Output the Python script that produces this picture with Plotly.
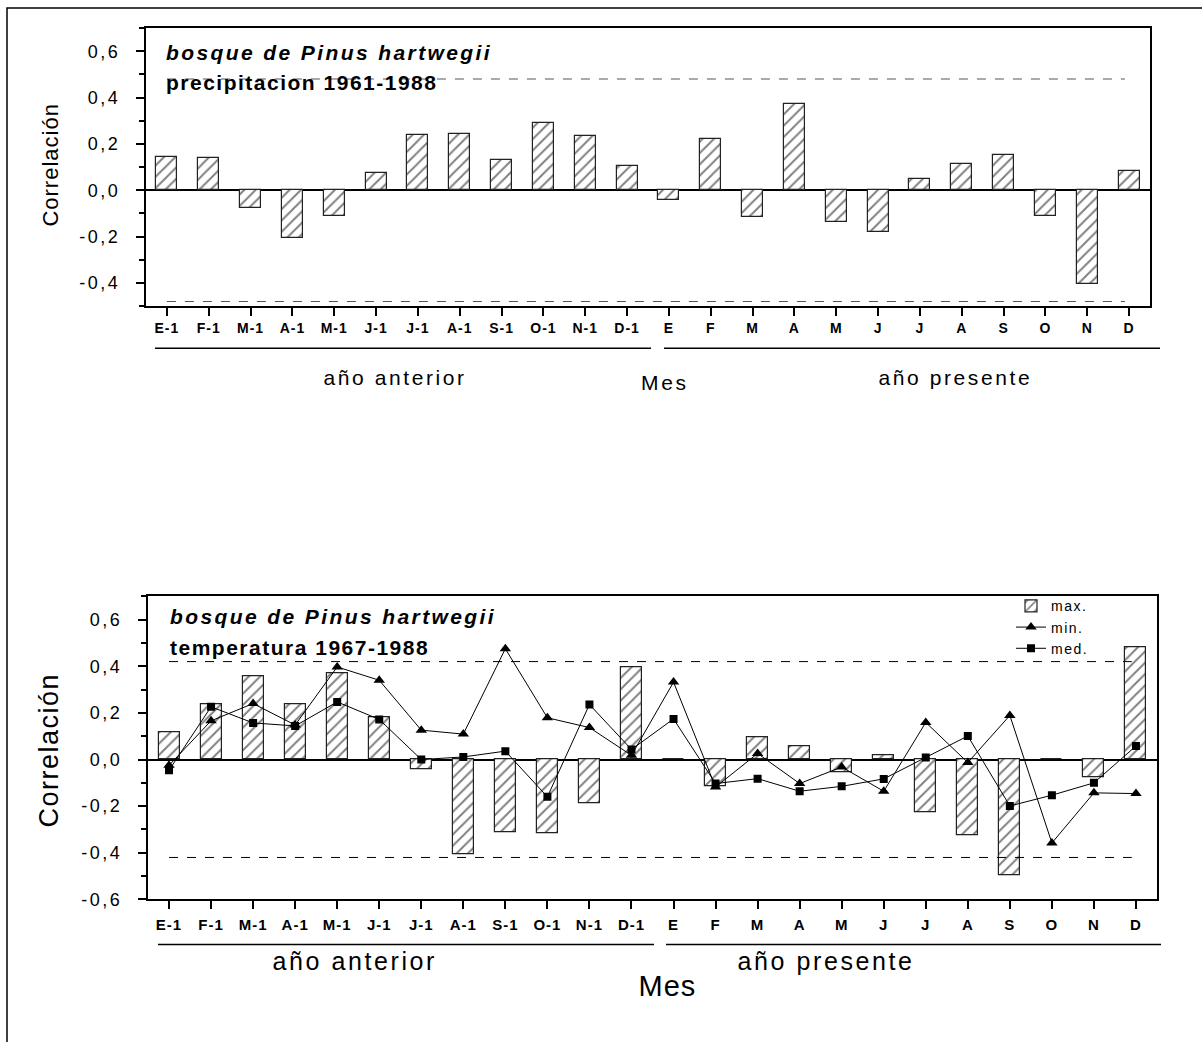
import plotly.graph_objects as go

# ---------------- data ----------------
months = ["E-1", "F-1", "M-1", "A-1", "M-1", "J-1", "J-1", "A-1", "S-1", "O-1", "N-1", "D-1",
          "E", "F", "M", "A", "M", "J", "J", "A", "S", "O", "N", "D"]
xpos = list(range(len(months)))

precip = [0.143, 0.140, -0.075, -0.204, -0.109, 0.076, 0.240, 0.242, 0.132, 0.291, 0.235, 0.106,
          -0.040, 0.222, -0.117, 0.374, -0.135, -0.178, 0.050, 0.113, 0.153, -0.112, -0.404, 0.085]

tmax = [0.118, 0.237, 0.357, 0.237, 0.369, 0.180, -0.043, -0.408, -0.313, -0.318, -0.186, 0.395,
        0.0, -0.115, 0.096, 0.057, -0.053, 0.018, -0.225, -0.326, -0.498, 0.0, -0.075, 0.481]

tmin = [-0.025, 0.166, 0.240, 0.148, 0.397, 0.340, 0.126, 0.109, 0.475, 0.179, 0.137, 0.018,
        0.332, -0.118, 0.026, -0.103, -0.032, -0.136, 0.159, -0.013, 0.189, -0.358, -0.143, -0.146]

tmed = [-0.046, 0.226, 0.157, 0.144, 0.247, 0.172, 0.000, 0.011, 0.036, -0.160, 0.236, 0.043,
        0.174, -0.103, -0.082, -0.136, -0.115, -0.083, 0.009, 0.101, -0.199, -0.153, -0.100, 0.058]

sig_precip = 0.48
sig_temp = 0.42

ytick_top_vals = [-0.4, -0.2, 0.0, 0.2, 0.4, 0.6]
ytick_top_text = ["-0,4", "-0,2", "0,0", "0,2", "0,4", "0,6"]
ytick_bot_vals = [-0.6, -0.4, -0.2, 0.0, 0.2, 0.4, 0.6]
ytick_bot_text = ["-0,6", "-0,4", "-0,2", "0,0", "0,2", "0,4", "0,6"]

# ---------------- helpers ----------------
W, H = 1202, 1042
H_EFF = 1031.5   # observed effective vertical extent of the rendered figure
FONT = "Arial, Liberation Sans, sans-serif"


def px(x):
    return x / W


def py(y):
    return 1 - y / H_EFF


hatch = dict(shape="/", fgcolor="black", bgcolor="white", size=8, solidity=0.24)

fig = go.Figure()

fig.add_trace(go.Bar(
    x=xpos, y=precip, width=0.5, xaxis="x", yaxis="y", showlegend=False,
    marker=dict(color="white", pattern=hatch, line=dict(color="#222", width=1.2)),
))

fig.add_trace(go.Bar(
    x=xpos, y=tmax, width=0.5, xaxis="x2", yaxis="y2", name="max.",
    marker=dict(color="white", pattern=hatch, line=dict(color="#222", width=1.2)),
))
fig.add_trace(go.Scatter(
    x=xpos, y=tmin, xaxis="x2", yaxis="y2", name="min.", mode="lines+markers",
    line=dict(color="black", width=1),
    marker=dict(symbol="triangle-up", size=10, color="black"),
))
fig.add_trace(go.Scatter(
    x=xpos, y=tmed, xaxis="x2", yaxis="y2", name="med.", mode="lines+markers",
    line=dict(color="black", width=1),
    marker=dict(symbol="square", size=8, color="black"),
))

common_x = dict(
    range=[-0.5, 23.5], tickmode="array", tickvals=xpos, ticktext=months,
    ticks="outside", ticklen=8, tickwidth=2, tickcolor="black",
    showline=True, linewidth=2, linecolor="black", mirror=True,
    showgrid=False, zeroline=False,
)
common_y = dict(
    tickmode="array", ticks="outside", ticklen=8, tickwidth=2, tickcolor="black",
    minor=dict(dtick=0.1, tick0=0, ticks="outside", ticklen=5, tickwidth=2, tickcolor="black", showgrid=False),
    showline=True, linewidth=2, linecolor="black", mirror=True,
    showgrid=False, zeroline=True, zerolinecolor="black", zerolinewidth=2,
    ticklabelstandoff=12,
    tickfont=dict(family=FONT, size=18, color="black"),
)

fig.update_layout(
    width=W, height=H, margin=dict(l=0, r=0, t=0, b=0),
    paper_bgcolor="white", plot_bgcolor="white",
    font=dict(family=FONT, color="black"),
    bargap=0,
    xaxis=dict(domain=[px(146), px(1150)], anchor="y",
               tickfont=dict(family=FONT, size=14, color="black", weight="bold"), **common_x),
    yaxis=dict(domain=[py(306), py(28)], anchor="x", range=[-0.5, 0.7],
               tickvals=ytick_top_vals, ticktext=ytick_top_text, **common_y),
    xaxis2=dict(domain=[px(148), px(1157)], anchor="y2", ticklabelstandoff=3,
                tickfont=dict(family=FONT, size=15, color="black", weight="bold"), **common_x),
    yaxis2=dict(domain=[py(899), py(596)], anchor="x2", range=[-0.6, 0.7],
                tickvals=ytick_bot_vals, ticktext=ytick_bot_text, **common_y),
    legend=dict(x=px(1011), y=py(590), xanchor="left", yanchor="top",
                bgcolor="rgba(0,0,0,0)", font=dict(family=FONT, size=14, color="black"),
                traceorder="normal", itemwidth=30, tracegroupgap=0),
)

shapes = []
# significance lines
for v in (sig_precip, -sig_precip):
    shapes.append(dict(type="line", xref="x", yref="y", x0=0, x1=22.9, y0=v, y1=v,
                       line=dict(color="#555", width=1, dash="dash")))
for v in (sig_temp, -sig_temp):
    shapes.append(dict(type="line", xref="x2", yref="y2", x0=0, x1=22.9, y0=v, y1=v,
                       line=dict(color="black", width=1, dash="dash")))
# year grouping lines
for (a, b, y) in [(155, 651, 348), (664, 1160, 348), (158, 654, 944), (666, 1161, 944)]:
    shapes.append(dict(type="line", xref="paper", yref="paper", x0=px(a), x1=px(b), y0=py(y), y1=py(y),
                       line=dict(color="black", width=1.5)))
# outer frame (top and left visible)
shapes.append(dict(type="rect", xref="paper", yref="paper", x0=px(7), x1=px(1215), y0=py(1080), y1=py(8),
                   line=dict(color="black", width=1.5)))
fig.update_layout(shapes=shapes)

annots = []
spacing = []


def add(text, x, y, size, ls, xanchor="center", align="center", angle=0):
    annots.append(dict(text=text, x=px(x), y=py(y), xref="paper", yref="paper",
                       xanchor=xanchor, yanchor="middle", align=align, textangle=angle,
                       showarrow=False, font=dict(family=FONT, size=size, color="black")))
    spacing.append(ls)


add("<b><i>bosque de Pinus hartwegii</i></b>", 164, 52, 21, 2.4, "left", "left")
add("<b>precipitacion 1961-1988</b>", 164, 82, 21, 1.5, "left", "left")
add("Correlación", 50, 165, 22, 1.0, angle=-90)
add("año anterior", 395, 377, 21, 2.6)
add("Mes", 665, 382, 21, 2.6)
add("año presente", 955, 377, 21, 2.6)
add("<b><i>bosque de Pinus hartwegii</i></b>", 168, 616, 21, 2.4, "left", "left")
add("<b>temperatura 1967-1988</b>", 168, 647, 21, 1.5, "left", "left")
add("Correlación", 49, 750, 27, 1.5, angle=-90)
add("año anterior", 354, 961, 25, 2.6)
add("Mes", 668, 986, 29, 1.0)
add("año presente", 826, 961, 25, 2.6)
fig.update_layout(annotations=annots)

post = """
document.body.style.margin='0';
document.body.style.overflow='hidden';
var gd = document.getElementById('{plot_id}');
var ls = %s;
gd.querySelectorAll('g.annotation').forEach(function(g){
  var i = +g.getAttribute('data-index');
  var t = g.querySelector('text.annotation-text');
  if (t && ls[i] !== undefined) { t.style.letterSpacing = ls[i] + 'px'; }
});
gd.querySelectorAll('g.xtick text, g.x2tick text').forEach(function(t){ t.style.letterSpacing='1px'; });
gd.querySelectorAll('g.ytick text, g.y2tick text').forEach(function(t){ t.style.letterSpacing='2.5px'; });
gd.querySelectorAll('text.legendtext').forEach(function(t){ t.style.letterSpacing='1.5px'; });
""" % (str(spacing))

fig.write_html("out.html", post_script=post, config={"displayModeBar": False})
